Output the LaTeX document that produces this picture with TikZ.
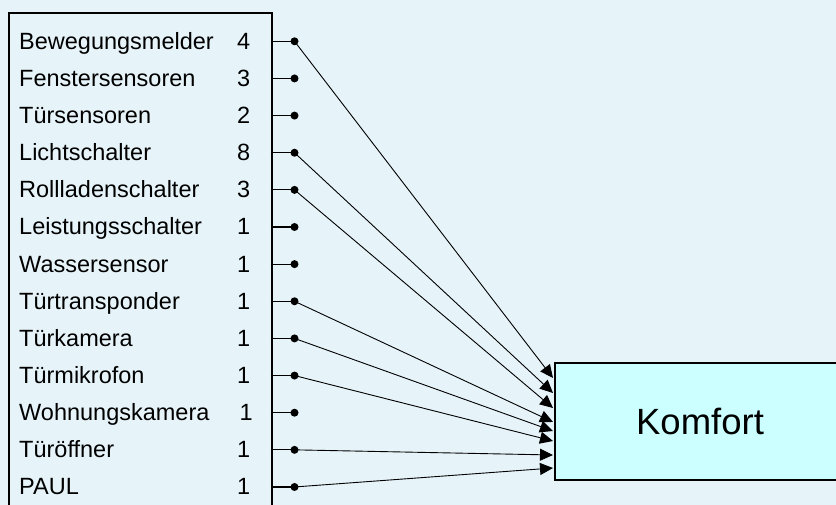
\documentclass[tikz,border=0pt]{standalone}
\usepackage{fontspec}
\setmainfont{Liberation Sans}
\usetikzlibrary{arrows.meta}
\definecolor{bgblue}{HTML}{E6F4FA}
\definecolor{kfill}{HTML}{CCFFFF}
\begin{document}
\begin{tikzpicture}[x=1pt,y=-1pt,
  lbl/.style={anchor=base west,inner sep=0pt,font=\fontsize{23.5}{27}\selectfont},
  numlbl/.style={anchor=base east,inner sep=0pt,font=\fontsize{23.5}{27}\selectfont},
  pin/.style={circle,fill=black,inner sep=0pt,minimum size=8pt},
  stub/.style={line width=1.1pt},
  conn/.style={line width=0.9pt,-{Triangle[length=13pt,width=12pt]}},
  frame/.style={draw=black,line width=2.4pt},
  target/.style={draw=black,line width=2.4pt,fill=kfill,inner sep=0pt}]
\useasboundingbox (0,0) rectangle (836,505);
\fill[bgblue] (0,0) rectangle (836,505);
\clip (0,0) rectangle (836,505);
% list box (extends below the page)
\node[frame,minimum width=262.5pt,minimum height=520pt,anchor=north west,inner sep=0pt] (list) at (8,12) {};
% Komfort box (extends beyond right edge)
\node[target,minimum width=292pt,minimum height=117pt,anchor=north west] (komfort) at (554,362) {};
\node[font=\fontsize{36.5}{40}\selectfont,inner sep=0pt] (ktext) at (700,421) {Komfort};
\foreach \i/\name/\n/\dx in {1/Bewegungsmelder/4/0, 2/Fenstersensoren/3/0, 3/Türsensoren/2/0,
  4/Lichtschalter/8/0, 5/Rollladenschalter/3/0, 6/Leistungsschalter/1/0, 7/Wassersensor/1/0,
  8/Türtransponder/1/0, 9/Türkamera/1/0, 10/Türmikrofon/1/0, 11/Wohnungskamera/1/2.5,
  12/Türöffner/1/0, 13/PAUL/1/0}{
  \pgfmathsetmacro{\yy}{41.3+(\i-1)*37.14}
  \node[lbl] (l\i) at (19,\yy+8) {\name};
  \node[numlbl] (n\i) at (250.5+\dx,\yy+8) {\n};
  \coordinate (s\i) at (270.5,\yy);
  \node[pin] (d\i) at (294.5,\yy) {};
  \draw[stub] (s\i) -- (d\i.center);
}
\foreach \i/\ty in {1/378, 4/393, 5/408, 8/422, 9/431, 10/441, 12/455, 13/468}{
  \coordinate (t\i) at (553,\ty);
  \draw[conn] (d\i.center) -- (t\i);
}
\end{tikzpicture}
\end{document}
